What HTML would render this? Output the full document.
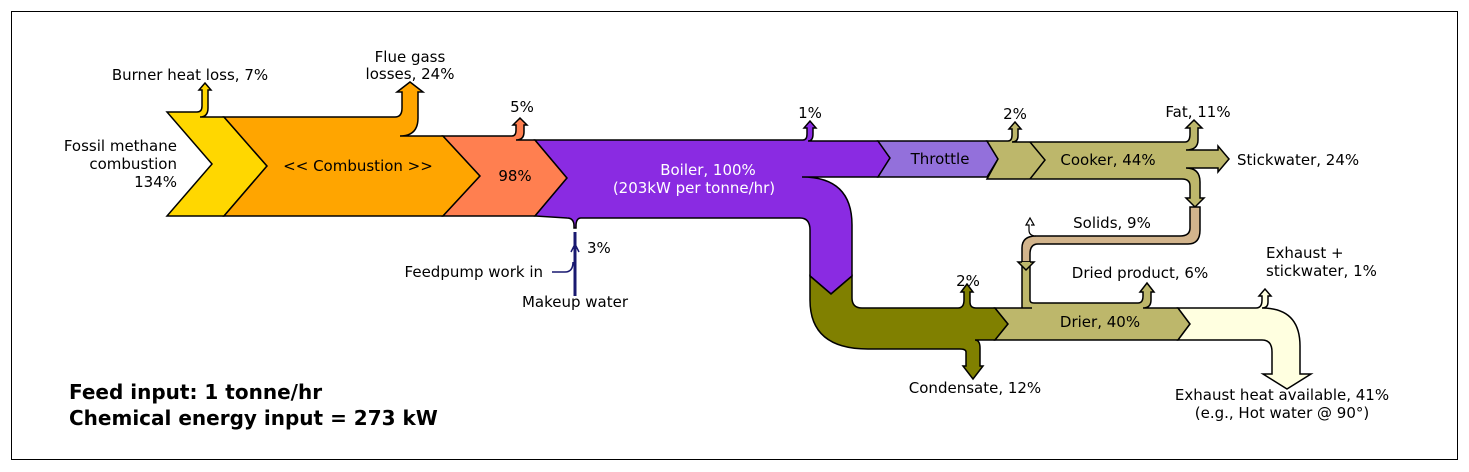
<!DOCTYPE html>
<html><head><meta charset="utf-8"><style>
html,body{margin:0;padding:0;background:#fff;}
svg{display:block;}
text{font-family:"DejaVu Sans","Liberation Sans",sans-serif;font-size:15px;fill:#000;}
</style></head><body>
<svg width="1469" height="472" viewBox="0 0 1469 472" xmlns="http://www.w3.org/2000/svg">
<rect x="11.5" y="11.5" width="1446" height="448" fill="#fff" stroke="#000" stroke-width="1"/>
<g stroke="#000" stroke-width="1.5" stroke-linejoin="miter">
<!-- yellow -->
<path d="M167,112 L197,112 Q202,112 202,106 L202,90 L199,90 L205,83 L211,90 L208,90 L208,108 Q208,117 200,117 L224,117 L267,166 L224,216 L167,216 L212,164 Z" fill="#FFD700"/>
<!-- orange -->
<path d="M224,117 L395,117 Q402,117 402,108 L402,92 L397,92 L410,82 L423,92 L418,92 L418,118 Q418,136 400,136 L443,136 L480,176 L443,216 L224,216 L267,166 Z" fill="#FFA500"/>
<!-- coral -->
<path d="M443,136 L512,136 Q516,136 516,130 L516,125 L513,125 L520,118 L527,125 L524,125 L524,132 Q524,140 516,140 L535,140 L567,178 L535,216 L443,216 L480,176 Z" fill="#FF7F50"/>
<!-- purple -->
<path d="M535,140 L803,140 Q807,140 807,134 L807,128 L804,128 L810,121 L816,128 L813,128 L813,134 Q813,141 808,141 L878,141 L890,158 L878,177 L802,177 Q852,177 852,225 L852,276 L831,294 L810,276 L810,230 Q810,218 800,218 L581,218 Q576,218 576,226 L576,228 L574,228 L574,226 Q574,218 567,218 L535,216 L567,178 Z" fill="#8A2BE2"/>
<!-- throttle -->
<path d="M878,141 L987,141 L998,159 L987,177 L878,177 L890,158 Z" fill="#9370DB"/>
<!-- cooker -->
<path d="M987,141 L1008,141 Q1012,141 1012,135 L1012,129 L1009,129 L1015,122 L1021,129 L1018,129 L1018,136 Q1018,142 1012,142 L1185,142 Q1190,142 1190,134 L1190,128 L1186,128 L1194,120 L1202,128 L1198,128 L1198,140 Q1198,150 1186,150 L1218,150 L1218,146 L1229,159 L1218,172 L1218,168 L1186,168 Q1200,168 1200,182 L1200,198 L1204,198 L1195,207 L1186,198 L1190,198 L1190,186 Q1190,179 1182,179 L987,179 L998,159 Z" fill="#BDB76B"/>
<path d="M1030,142 L1045,160 L1030,179" fill="none"/>
<!-- solids loop tan -->
<path d="M1190,207 L1200,207 L1200,230 Q1200,244 1188,244 L1038,244 Q1030,244 1030,254 L1030,262 L1022,262 L1022,248 Q1022,236 1036,236 L1180,236 Q1190,236 1190,228 Z" fill="#D2B48C"/>
<path d="M1036,236 Q1029,236 1029,230 L1029,225 L1026,225 L1030,218 L1034,225 L1031,225" fill="none" stroke-width="1.2"/>
<!-- olive -->
<path d="M810,276 L831,294 L852,276 L852,298 Q852,308 862,308 L958,308 Q964,308 964,300 L964,292 L961,292 L967,284 L973,292 L970,292 L970,302 Q970,308 976,308 L995,308 L1008,324 L995,340 L975,340 Q980,340 980,348 L980,366 L983,366 L973,379 L963,366 L966,366 L966,352 Q966,349 960,349 L868,349 Q810,349 810,300 Z" fill="#808000"/>
<!-- drier -->
<path d="M995,308 L1032,308 L1022,308 Q1022,262 1022,262 L1030,262 L1030,300 Q1030,303 1034,303 L1138,303 Q1143,303 1143,296 L1143,292 L1140,292 L1147,283 L1154,292 L1151,292 L1151,300 Q1151,308 1143,308 L1178,308 L1190,324 L1178,340 L995,340 L1008,324 Z" fill="#BDB76B"/>
<path d="M1022,262 L1018,262 L1026,270 L1034,262 L1030,262" fill="#BDB76B"/>
<!-- exhaust -->
<path d="M1178,308 L1256,308 Q1262,308 1262,300 L1262,296 L1259,296 L1265,289 L1271,296 L1268,296 L1268,302 Q1268,308 1262,308 L1262,308 Q1300,308 1300,346 L1300,374 L1311,374 L1287,389 L1263,374 L1272,374 L1272,352 Q1272,340 1262,340 L1178,340 L1190,324 Z" fill="#FFFFE0"/>
<!-- feedpump -->
<path d="M575,296 L575,232" fill="none" stroke="#191970" stroke-width="3"/>
<path d="M571,252 L575,244 L579,252" fill="none" stroke="#191970" stroke-width="1.5"/>
<path d="M552,272 L565,272 Q573,272 573,262" fill="none" stroke="#191970" stroke-width="1.5"/>
</g>
<text x="190" y="80" text-anchor="middle">Burner heat loss, 7%</text>
<text x="410" y="62" text-anchor="middle">Flue gass</text>
<text x="410" y="79" text-anchor="middle">losses, 24%</text>
<text x="522" y="112" text-anchor="middle">5%</text>
<text x="177" y="151" text-anchor="end">Fossil methane</text>
<text x="177" y="169" text-anchor="end">combustion</text>
<text x="177" y="187" text-anchor="end">134%</text>
<text x="358" y="171" text-anchor="middle">&lt;&lt; Combustion &gt;&gt;</text>
<text x="515" y="181" text-anchor="middle">98%</text>
<text x="708" y="175" text-anchor="middle" style="fill:#fff">Boiler, 100%</text>
<text x="694" y="193" text-anchor="middle" style="fill:#fff">(203kW per tonne/hr)</text>
<text x="587" y="253">3%</text>
<text x="543" y="277" text-anchor="end">Feedpump work in</text>
<text x="575" y="307" text-anchor="middle">Makeup water</text>
<text x="810" y="118" text-anchor="middle">1%</text>
<text x="940" y="164" text-anchor="middle">Throttle</text>
<text x="1015" y="119" text-anchor="middle">2%</text>
<text x="1108" y="165" text-anchor="middle">Cooker, 44%</text>
<text x="1198" y="117" text-anchor="middle">Fat, 11%</text>
<text x="1237" y="165">Stickwater, 24%</text>
<text x="1112" y="228" text-anchor="middle">Solids, 9%</text>
<text x="1140" y="278" text-anchor="middle">Dried product, 6%</text>
<text x="1266" y="258">Exhaust +</text>
<text x="1266" y="276">stickwater, 1%</text>
<text x="968" y="286" text-anchor="middle">2%</text>
<text x="1100" y="327" text-anchor="middle">Drier, 40%</text>
<text x="975" y="393" text-anchor="middle">Condensate, 12%</text>
<text x="1282" y="400" text-anchor="middle">Exhaust heat available, 41%</text>
<text x="1282" y="418" text-anchor="middle">(e.g., Hot water @ 90°)</text>
<text x="69" y="399" style="font-size:20px;font-weight:bold">Feed input: 1 tonne/hr</text>
<text x="69" y="425" style="font-size:20px;font-weight:bold">Chemical energy input = 273 kW</text>
</svg>
</body></html>
